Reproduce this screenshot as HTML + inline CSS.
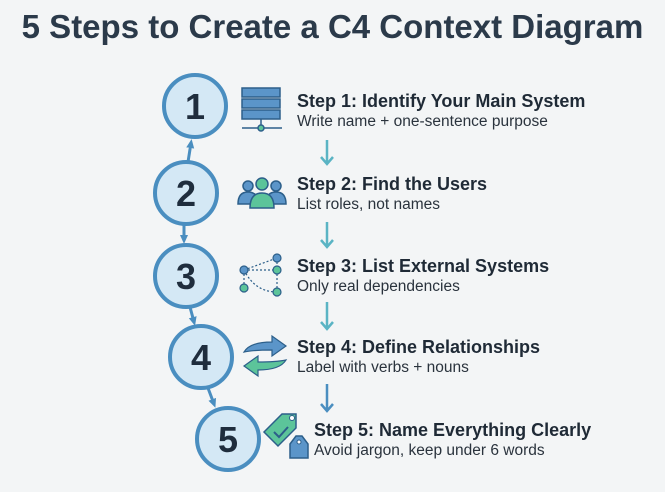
<!DOCTYPE html>
<html><head><style>
body{margin:0;width:665px;height:492px;background:#f3f5f6;font-family:"Liberation Sans",sans-serif;overflow:hidden;position:relative}
.t{position:absolute;color:#1f2a36;white-space:nowrap}
.h{font-weight:bold;font-size:18px}
.s{font-size:15.5px;color:#2a333d}
</style></head><body>
<div class="t" style="left:0;width:665px;text-align:center;top:8px;font-size:33px;font-weight:bold;color:#2b3a4a">5 Steps to Create a C4 Context Diagram</div>
<svg width="665" height="492" style="position:absolute;left:0;top:0">
<defs>
<marker id="ab" markerUnits="userSpaceOnUse" markerWidth="10" markerHeight="10" refX="5" refY="5" orient="auto"><path d="M0,1 L9,5 L0,9 Z" fill="#4a8ec0"/></marker>
</defs>
<g stroke="#4a8ec0" stroke-width="3" fill="none">
<line x1="188" y1="162" x2="191" y2="143" marker-end="url(#ab)"/>
<line x1="184" y1="224" x2="184" y2="240" marker-end="url(#ab)"/>
<line x1="190" y1="307" x2="194" y2="322" marker-end="url(#ab)"/>
<line x1="208" y1="388" x2="214" y2="404" marker-end="url(#ab)"/>
</g>
<g fill="#d4e8f5" stroke="#4a8ec0" stroke-width="4">
<circle cx="195" cy="106" r="31"/>
<circle cx="186" cy="193" r="31"/>
<circle cx="186" cy="276" r="31"/>
<circle cx="201" cy="357" r="31"/>
<circle cx="228" cy="439" r="31"/>
</g>
<g font-family="Liberation Sans" font-weight="bold" font-size="36" fill="#1f2d3d" text-anchor="middle">
<text x="195" y="119">1</text><text x="186" y="206">2</text><text x="186" y="289">3</text><text x="201" y="370">4</text><text x="228" y="452">5</text>
</g>
<g stroke-width="2.5" fill="none">
<g stroke="#5ab4c4"><path d="M327 140 V164 M321 157 L327 164 L333 157"/><path d="M327 222 V247 M321 240 L327 247 L333 240"/><path d="M327 302 V329 M321 322 L327 329 L333 322"/></g>
<g stroke="#4a8ec0"><path d="M327 384 V411 M321 404 L327 411 L333 404"/></g>
</g>
<g stroke="#2c5f8a" stroke-width="1.5">
<rect x="242" y="88" width="38" height="9" fill="#5b95c9"/>
<rect x="242" y="99" width="38" height="9" fill="#5b95c9"/>
<rect x="242" y="110" width="38" height="9" fill="#5b95c9"/>
<line x1="261" y1="119" x2="261" y2="127"/><line x1="242" y1="128" x2="282" y2="128"/>
<circle cx="261" cy="128" r="3" fill="#5cc49a"/>
</g>
<g stroke="#2c5f8a" stroke-width="1.5">
<circle cx="248" cy="186" r="5" fill="#5b95c9"/><circle cx="276" cy="186" r="5" fill="#5b95c9"/>
<path d="M238 204 q0-12 10-12 q10 0 10 12 Z" fill="#5b95c9"/><path d="M266 204 q0-12 10-12 q10 0 10 12 Z" fill="#5b95c9"/>
<circle cx="262" cy="184" r="6" fill="#5cc49a"/>
<path d="M250 208 q0-15 12-15 q12 0 12 15 Z" fill="#5cc49a"/>
</g>
<g stroke="#2c5f8a" stroke-width="1.2" fill="none" stroke-dasharray="2 2">
<path d="M244 270 L277 258 M244 270 H277 M244 270 L244 286 M277 258 V292 M244 270 Q255 292 277 292"/>
</g>
<g stroke="#2c5f8a" stroke-width="1.2" fill="#5cc49a">
<circle cx="244" cy="270" r="4" fill="#5b95c9"/><circle cx="277" cy="258" r="4" fill="#5b95c9"/><circle cx="277" cy="270" r="4"/><circle cx="244" cy="288" r="4"/><circle cx="277" cy="292" r="4"/>
</g>
<path d="M244 352 q6-10 28-10 v-6 l14 10 l-14 10 v-6 q-18 0-28 2 Z" fill="#5b95c9" stroke="#2c5f8a" stroke-width="1.2"/>
<path d="M286 360 q-6 10-28 10 v6 l-14-10 l14-10 v6 q18 0 28-2 Z" fill="#5cc49a" stroke="#2c5f8a" stroke-width="1.2"/>
<path d="M264 432 l18-18 h14 v14 l-18 18 Z" fill="#5cc49a" stroke="#2c5f8a" stroke-width="1.5"/>
<path d="M274 432 l5 5 l9-10" stroke="#2c5f8a" stroke-width="2" fill="none"/>
<circle cx="292" cy="418" r="2.5" fill="#fff" stroke="#2c5f8a"/>
<path d="M290 444 l6-8 h6 l6 8 v14 h-18 Z" fill="#5b95c9" stroke="#2c5f8a" stroke-width="1.5"/>
<circle cx="299" cy="442" r="2" fill="#fff" stroke="#2c5f8a"/>
</svg>
<div class="t h" style="left:297px;top:91px">Step 1: Identify Your Main System</div>
<div class="t s" style="left:297px;top:113px">Write name + one-sentence purpose</div>
<div class="t h" style="left:297px;top:174px">Step 2: Find the Users</div>
<div class="t s" style="left:297px;top:196px">List roles, not names</div>
<div class="t h" style="left:297px;top:256px">Step 3: List External Systems</div>
<div class="t s" style="left:297px;top:278px">Only real dependencies</div>
<div class="t h" style="left:297px;top:337px">Step 4: Define Relationships</div>
<div class="t s" style="left:297px;top:359px">Label with verbs + nouns</div>
<div class="t h" style="left:314px;top:420px">Step 5: Name Everything Clearly</div>
<div class="t s" style="left:314px;top:442px">Avoid jargon, keep under 6 words</div>
</body></html>
